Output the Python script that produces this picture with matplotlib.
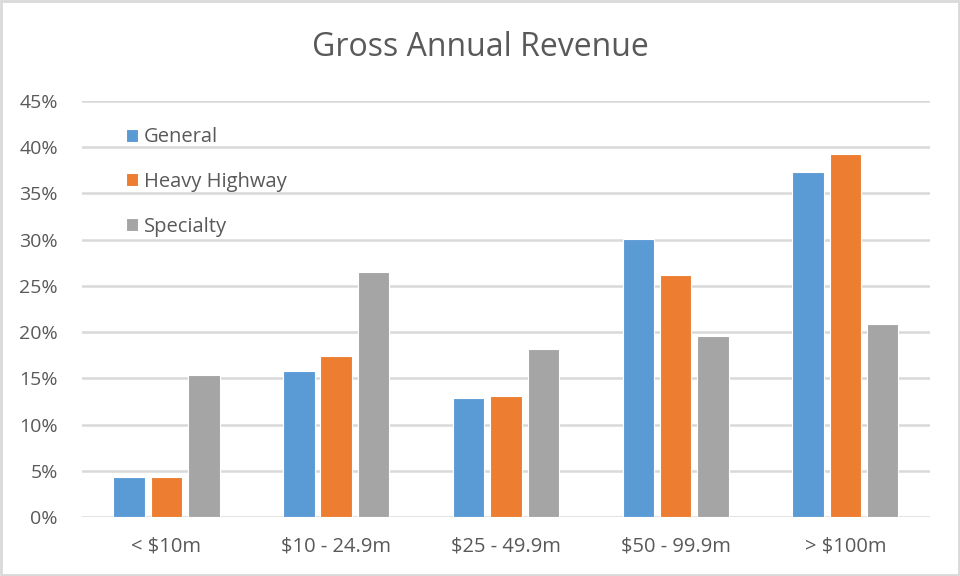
import matplotlib.pyplot as plt
import numpy as np

plt.rcParams['font.family'] = ['Open Sans', 'DejaVu Sans']

categories = ['< $10m', '$10 - 24.9m', '$25 - 49.9m', '$50 - 99.9m', '> $100m']
general = [4.3, 15.8, 12.9, 30.1, 37.3]
heavy = [4.3, 17.4, 13.1, 26.2, 39.3]
specialty = [15.4, 26.5, 18.2, 19.6, 20.9]

colors = ['#5B9BD5', '#ED7D31', '#A5A5A5']
txt = '#595959'

fig = plt.figure(figsize=(9.6, 5.76), dpi=100)
ax = fig.add_axes([0.085, 0.1024, 0.884, 0.7223])

idx = np.arange(len(categories))
w = 0.185
step = 0.22
for k, (vals, lab) in enumerate([(general, 'General'), (heavy, 'Heavy Highway'), (specialty, 'Specialty')]):
    ax.bar(idx + (k - 1) * step, np.array(vals) / 100, width=w, color=colors[k],
           edgecolor='white', linewidth=0.8, label=lab, zorder=3)

ax.set_xlim(-0.5, len(categories) - 0.5)
ax.set_ylim(0, 0.45)
ax.set_yticks(np.arange(0, 0.46, 0.05))
ax.set_yticklabels(['%d%%' % round(v * 100) for v in np.arange(0, 0.46, 0.05)])
ax.set_xticks(idx)
ax.set_xticklabels(categories)
ax.tick_params(axis='both', length=0, colors=txt)
ax.tick_params(axis='x', pad=14, labelsize=14.5)
ax.tick_params(axis='y', pad=17, labelsize=14)
ax.grid(axis='y', color='#D9D9D9', linewidth=1.8, zorder=0)
for s in ax.spines.values():
    s.set_visible(False)

fig.text(0.5, 0.918, 'Gross Annual Revenue', fontsize=23, color=txt, ha='center', va='center')

leg = ax.legend(loc='upper left', bbox_to_anchor=(0.031, 0.98), frameon=False,
                fontsize=14.5, labelspacing=1.22, handlelength=0.6, handleheight=0.6,
                handletextpad=0.3, labelcolor=txt)

fig.patches.append(plt.Rectangle((0.001, 0.001), 0.998, 0.998, transform=fig.transFigure,
                                 fill=False, edgecolor='#D9D9D9', linewidth=2))

fig.savefig('out.png', dpi=100)
